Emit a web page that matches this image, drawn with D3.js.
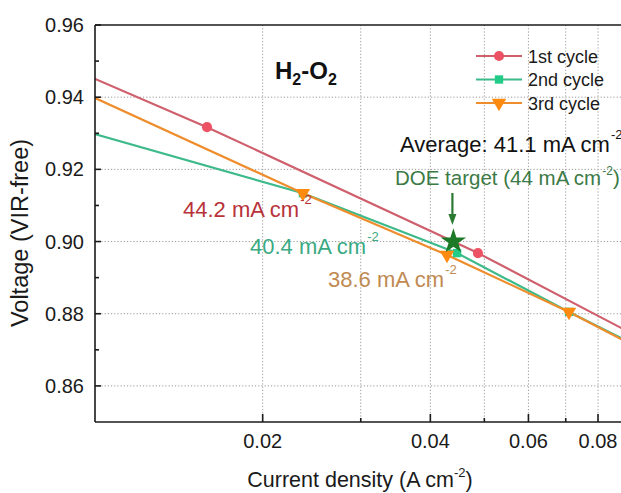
<!DOCTYPE html>
<html><head><meta charset="utf-8">
<script src="https://cdn.jsdelivr.net/npm/d3@7"></script>
<style>
html,body{margin:0;padding:0;background:#fff;}
svg{display:block;font-family:"Liberation Sans",Arial,sans-serif;}
</style></head>
<body>
<svg id="c" width="621" height="493"></svg>
<script>
// ---- data ----
const seriesNames = ["1st cycle", "2nd cycle", "3rd cycle"];
const cycle1X = [0.008, 0.01589, 0.0487, 0.12];
const cycle1V = [0.9515, 0.9317, 0.8968, 0.8652];
const cycle2X = [0.008, 0.02362, 0.04467, 0.07096, 0.12];
const cycle2V = [0.9340, 0.9134, 0.8968, 0.8805, 0.8629];
const cycle3X = [0.008, 0.02362, 0.04285, 0.07096, 0.12];
const cycle3V = [0.9466, 0.9134, 0.8963, 0.8805, 0.8622];
const doeTarget = {x: 0.044, v: 0.90};
const xTickValues = [0.02, 0.04, 0.06, 0.08];
const xMinorValues = [0.03, 0.05, 0.07, 0.09];
const yTickValues = [0.86, 0.88, 0.90, 0.92, 0.94, 0.96];
const yMinorValues = [0.87, 0.89, 0.91, 0.93, 0.95];
const xDomain = [0.01, 0.1];
const yDomain = [0.85, 0.96];

const colors = ["#cf5f6c", "#3dba8a", "#ef8c2c"];
const markerColors = ["#ec5263", "#22cc88", "#ff8a10"];

const svg = d3.select("#c");
const L = 95, T = 25, R = 652, B = 422;
const x = d3.scaleLog().domain(xDomain).range([L, R]);
const y = d3.scaleLinear().domain(yDomain).range([B, T]);

svg.append("defs").append("clipPath").attr("id","clip")
  .append("rect").attr("x",L).attr("y",T).attr("width",R-L).attr("height",B-T);

// grid
const grid = svg.append("g").attr("stroke","#9a9a9a").attr("stroke-width",1).attr("stroke-dasharray","1.2,2");
grid.selectAll(".gv").data(xTickValues.concat(xMinorValues)).join("line")
  .attr("x1",d=>x(d)).attr("x2",d=>x(d)).attr("y1",T).attr("y2",B);
grid.selectAll(".gh").data(yTickValues.filter(v=>v<0.96)).join("line")
  .attr("x1",L).attr("x2",R).attr("y1",d=>y(d)).attr("y2",d=>y(d));

// series
const series = [
  {xs: cycle1X, vs: cycle1V},
  {xs: cycle2X, vs: cycle2V},
  {xs: cycle3X, vs: cycle3V}
].map((s,i)=>({name: seriesNames[i], pts: s.xs.map((xv,j)=>({x:xv, v:s.vs[j]}))}));

const plot = svg.append("g").attr("clip-path","url(#clip)");
const line = d3.line().x(d=>x(d.x)).y(d=>y(d.v));
series.forEach((s,i)=>{
  plot.append("path").attr("d",line(s.pts)).attr("fill","none")
    .attr("stroke",colors[i]).attr("stroke-width",2.2);
});
const symbols = [d3.symbolCircle, d3.symbolSquare, d3.symbolTriangle];
const sizes = [80, 70, 90];
function marker(g, i, cx, cy){
  g.append("path").attr("d", d3.symbol().type(symbols[i]).size(sizes[i])())
    .attr("transform", `translate(${cx},${cy})` + (i===2 ? " rotate(180)" : ""))
    .attr("fill", markerColors[i]);
}
series.forEach((s,i)=>{
  s.pts.forEach(p=> marker(plot, i, x(p.x), y(p.v)));
});

// DOE target star and arrow
const sx = x(doeTarget.x), sy = y(doeTarget.v);
plot.append("path").attr("d", d3.symbol().type(d3.symbolStar).size(200)())
  .attr("transform",`translate(${sx},${sy})`).attr("fill","#1d7a26");
svg.append("line").attr("x1",sx-1).attr("x2",sx-1).attr("y1",193).attr("y2",216)
  .attr("stroke","#2a7a32").attr("stroke-width",2.2);
svg.append("path").attr("d",`M${sx-5},${214} L${sx+3},${214} L${sx-1},${225} Z`).attr("fill","#2a7a32");

// axes frame
const ax = svg.append("g").attr("stroke","#1a1a1a").attr("stroke-width",1.6);
ax.append("line").attr("x1",L).attr("x2",L).attr("y1",T).attr("y2",B);
ax.append("line").attr("x1",L).attr("x2",R).attr("y1",B).attr("y2",B);
ax.append("line").attr("x1",L).attr("x2",R).attr("y1",T).attr("y2",T);
// ticks (inward)
ax.selectAll(".xt").data(xTickValues).join("line")
  .attr("x1",d=>x(d)).attr("x2",d=>x(d)).attr("y1",B).attr("y2",B-8);
ax.selectAll(".xm").data(xMinorValues).join("line")
  .attr("x1",d=>x(d)).attr("x2",d=>x(d)).attr("y1",B).attr("y2",B-4);
ax.selectAll(".yt").data(yTickValues).join("line")
  .attr("x1",L).attr("x2",L+6).attr("y1",d=>y(d)).attr("y2",d=>y(d));
ax.selectAll(".ym").data(yMinorValues).join("line")
  .attr("x1",L).attr("x2",L+4).attr("y1",d=>y(d)).attr("y2",d=>y(d));

// tick labels
const fmt = d3.format(".2f");
svg.selectAll(".xl").data(xTickValues).join("text")
  .attr("x",d=>x(d)).attr("y",448).attr("text-anchor","middle")
  .attr("font-size",20).attr("fill","#1a1a1a").text(d=>fmt(d));
svg.selectAll(".yl").data(yTickValues).join("text")
  .attr("x",84).attr("y",d=>y(d)+7).attr("text-anchor","end")
  .attr("font-size",20).attr("fill","#1a1a1a").text(d=>fmt(d));

// axis titles
const xt = svg.append("text").attr("x",360).attr("y",487).attr("text-anchor","middle")
  .attr("font-size",21.5).attr("fill","#1a1a1a");
xt.append("tspan").text("Current density (A cm");
xt.append("tspan").attr("dy",-10).attr("font-size",13).text("-2");
xt.append("tspan").attr("dy",10).text(")");
svg.append("text").attr("transform","translate(28,233) rotate(-90)").attr("text-anchor","middle")
  .attr("font-size",23.5).attr("fill","#1a1a1a").text("Voltage (VIR-free)");

// title H2-O2
const ht = svg.append("text").attr("x",275).attr("y",79).attr("font-size",24)
  .attr("font-weight","bold").attr("fill","#111");
ht.append("tspan").text("H");
ht.append("tspan").attr("dy",6).attr("font-size",16).text("2");
ht.append("tspan").attr("dy",-6).text("-O");
ht.append("tspan").attr("dy",6).attr("font-size",16).text("2");

// legend
const lg = svg.append("g");
seriesNames.forEach((n,i)=>{
  const ly = 56 + i*23.5;
  lg.append("line").attr("x1",476).attr("x2",522).attr("y1",ly).attr("y2",ly)
    .attr("stroke",colors[i]).attr("stroke-width",2.2);
  marker(lg, i, 499, ly);
  lg.append("text").attr("x",528).attr("y",ly+6.5).attr("font-size",18).attr("fill","#1a1a1a").text(n);
});

// annotations
function ann(tx, ty, main, color, size){
  const t = svg.append("text").attr("x",tx).attr("y",ty).attr("font-size",size).attr("fill",color);
  t.append("tspan").text(main);
  t.append("tspan").attr("dx",1).attr("dy",-13).attr("font-size",13).text("-2");
  return t;
}
ann(400,152,"Average: 41.1 mA cm","#111",22);
const doe = svg.append("text").attr("x",395).attr("y",185).attr("font-size",20.5).attr("fill","#3b7a45");
doe.append("tspan").text("DOE target (44 mA cm");
doe.append("tspan").attr("dx",1).attr("dy",-10).attr("font-size",12).text("-2");
doe.append("tspan").attr("dy",10).text(")");
ann(183,217,"44.2 mA cm","#b8323a",22);
ann(250,254,"40.4 mA cm","#3aaa82",22);
ann(328,287,"38.6 mA cm","#c08a52",22);
</script>
</body></html>
